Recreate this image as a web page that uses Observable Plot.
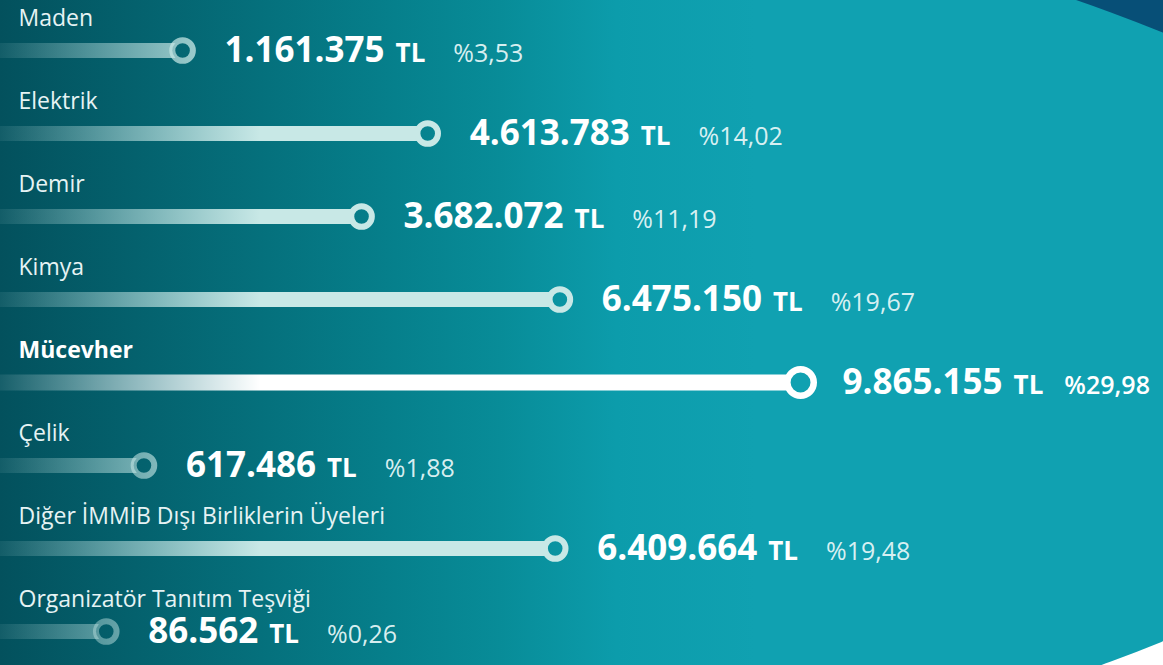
<!DOCTYPE html>
<html><head><meta charset="utf-8">
<script src="https://cdn.jsdelivr.net/npm/d3@7"></script>
<script src="https://cdn.jsdelivr.net/npm/@observablehq/plot@0.6"></script>
<style>
body{margin:0;background:#fff;font-family:"Open Sans",sans-serif;}
#wrap{position:relative;width:1163px;height:665px;overflow:hidden;}
#bg,#chart{position:absolute;left:0;top:0;}
</style></head><body>
<div id="wrap">
<svg id="bg" width="1163" height="665">
<defs>
<linearGradient id="bgGrad" gradientUnits="userSpaceOnUse" x1="0" y1="0" x2="1163" y2="0">
 <stop offset="0" stop-color="#03515d"/>
 <stop offset="0.34" stop-color="#06808c"/>
 <stop offset="0.43" stop-color="#088c98"/>
 <stop offset="0.53" stop-color="#0c9cab"/>
 <stop offset="0.65" stop-color="#10a1b1"/>
 <stop offset="1" stop-color="#10a1b1"/>
</linearGradient>
<linearGradient id="barLight" gradientUnits="userSpaceOnUse" x1="0" y1="0" x2="260" y2="0">
 <stop offset="0" stop-color="#c8e8e6" stop-opacity="0.08"/>
 <stop offset="1" stop-color="#c8e8e6" stop-opacity="1"/>
</linearGradient>
<linearGradient id="barWhite" gradientUnits="userSpaceOnUse" x1="0" y1="0" x2="260" y2="0">
 <stop offset="0" stop-color="#ffffff" stop-opacity="0.08"/>
 <stop offset="1" stop-color="#ffffff" stop-opacity="1"/>
</linearGradient>
</defs>
<rect width="1163" height="333" fill="#074f77"/>
<rect y="333" width="1163" height="332" fill="#ffffff"/>
<ellipse cx="-200" cy="337" rx="1695" ry="512" fill="url(#bgGrad)"/>
</svg>
<div id="chart"></div>
</div>
<script>
const categories = ["Maden", "Elektrik", "Demir", "Kimya", "Mücevher", "Çelik", "Diğer İMMİB Dışı Birliklerin Üyeleri", "Organizatör Tanıtım Teşviği"];
const values = [1161375, 4613783, 3682072, 6475150, 9865155, 617486, 6409664, 86562];
const shares = [3.53, 14.02, 11.19, 19.67, 29.98, 1.88, 19.48, 0.26];
const currencyLabel = "TL";
const highlight = "Mücevher";

const rows = categories.map((c, i) => ({cat: c, value: values[i], share: shares[i]}));
const tr = d3.formatLocale({decimal: ",", thousands: ".", grouping: [3], currency: ["", " TL"]});
const fmtNum = tr.format(",d");
const fmtPct = tr.format(".2f");
const isHi = d => d.cat === highlight;
const normal = rows.filter(d => !isHi(d));
const hi = rows.filter(isHi);
const xDomain = [-1.403e6, 14.977e6];

function richValue(data) {
  return function(index, scales, vals, dims, ctx, next) {
    const g = next(index, scales, vals, dims, ctx);
    d3.select(g).selectAll("text").each(function(_, j) {
      const d = data[index[j]];
      const t = d3.select(this);
      t.text(null);
      t.append("tspan").text(fmtNum(d.value));
      t.append("tspan").attr("dx", 11).attr("font-size", 26).text(currencyLabel);
      t.append("tspan").attr("dx", isHi(d) ? 21 : 28).attr("font-size", 25)
        .attr("font-weight", isHi(d) ? 600 : 400)
        .attr("fill", isHi(d) ? "#ffffff" : "rgba(228,246,247,0.95)")
        .text("%" + fmtPct(d.share));
    });
    return g;
  };
}

const chart = Plot.plot({
  width: 1163, height: 665, margin: 0,
  style: {background: "transparent", fontFamily: "'Open Sans', sans-serif", overflow: "visible"},
  x: {domain: xDomain, axis: null},
  y: {type: "point", domain: categories, range: [48, 632], padding: 0, axis: null},
  marks: [
    Plot.ruleY(normal, {y: "cat", x1: () => xDomain[0], x2: "value", stroke: "url(#barLight)", strokeWidth: 15}),
    Plot.ruleY(hi, {y: "cat", x1: () => xDomain[0], x2: "value", stroke: "url(#barWhite)", strokeWidth: 16}),
    Plot.dot(normal, {x: "value", y: "cat", r: 10.3, stroke: "url(#barLight)", strokeWidth: 6, fill: "url(#bgGrad)"}),
    Plot.dot(hi, {x: "value", y: "cat", r: 13.2, stroke: "#ffffff", strokeWidth: 6.5, fill: "url(#bgGrad)"}),
    Plot.text(normal, {y: "cat", text: "cat", frameAnchor: "left", dx: 18, dy: -25, textAnchor: "start", lineAnchor: "bottom", fontSize: 23, fill: "#e6f3f4"}),
    Plot.text(hi, {y: "cat", text: "cat", frameAnchor: "left", dx: 18, dy: -25, textAnchor: "start", lineAnchor: "bottom", fontSize: 23, fontWeight: 700, fill: "#ffffff"}),
    Plot.text(normal, {x: "value", y: "cat", text: d => fmtNum(d.value), dx: 42, textAnchor: "start", lineAnchor: "middle", fontSize: 35, fontWeight: 700, fill: "#ffffff", render: richValue(normal)}),
    Plot.text(hi, {x: "value", y: "cat", text: d => fmtNum(d.value), dx: 42, textAnchor: "start", lineAnchor: "middle", fontSize: 35, fontWeight: 700, fill: "#ffffff", render: richValue(hi)})
  ]
});
document.getElementById("chart").appendChild(chart);
</script>
</body></html>
